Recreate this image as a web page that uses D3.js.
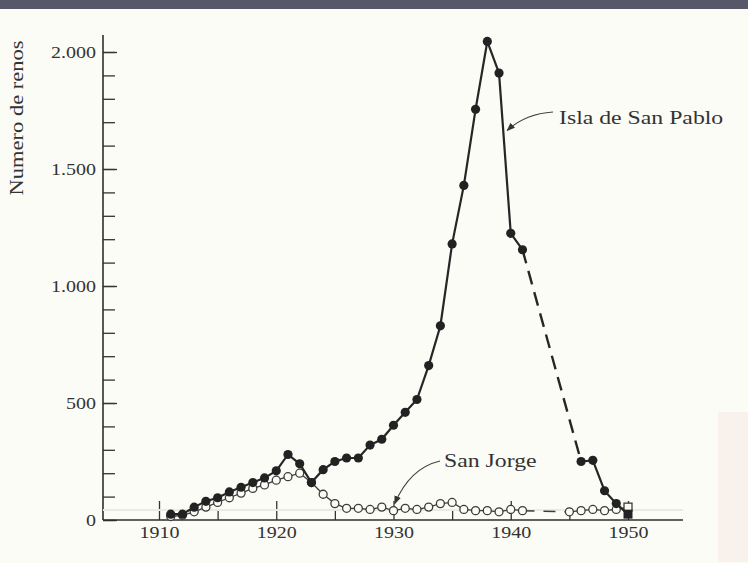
<!DOCTYPE html>
<html><head><meta charset="utf-8">
<script src="https://cdn.jsdelivr.net/npm/d3@7/dist/d3.min.js"></script>
<style>
html,body{margin:0;padding:0;background:#fcfcf6;}
svg{display:block;}
text{font-family:"Liberation Serif","DejaVu Serif",serif;fill:#333;}
</style></head>
<body>
<script>
// ---- data ----
const paulYears   = [1911,1912,1913,1914,1915,1916,1917,1918,1919,1920,1921,1922,1923,1924,1925,1926,1927,1928,1929,1930,1931,1932,1933,1934,1935,1936,1937,1938,1939,1940,1941,1946,1947,1948,1949,1950];
const paulValues  = [25,25,55,80,95,120,140,160,180,210,280,240,160,215,250,265,265,320,345,405,460,515,660,830,1180,1430,1755,2045,1910,1225,1155,250,255,125,70,25];
const georgeYears = [1911,1912,1913,1914,1915,1916,1917,1918,1919,1920,1921,1922,1923,1924,1925,1926,1927,1928,1929,1930,1931,1932,1933,1934,1935,1936,1937,1938,1939,1940,1941,1945,1946,1947,1948,1949,1950];
const georgeValues= [15,20,35,55,75,95,115,135,150,170,185,200,160,110,70,50,50,45,55,40,50,45,55,70,75,45,40,40,35,45,40,35,40,45,40,45,55];
const yMajorTicks = [0,500,1000,1500,2000];
const xMajorTicks = [1910,1920,1930,1940,1950];
const yTitle = "Numero de renos";
const labelPaul = "Isla de San Pablo";
const labelGeorge = "San Jorge";

const W = 748, H = 563;
const svg = d3.select("body").append("svg").attr("width", W).attr("height", H);
svg.append("rect").attr("width", W).attr("height", H).attr("fill", "#fcfcf6");
svg.append("rect").attr("x",0).attr("y",0).attr("width",W).attr("height",9).attr("fill","#565869");
svg.append("rect").attr("x",718).attr("y",412).attr("width",30).attr("height",150).attr("fill","#f8f1ec");

const x = d3.scaleLinear().domain([1910,1950]).range([159,628]);
const y = d3.scaleLinear().domain([0,2000]).range([520,52]);
const axisX0 = 103, axisY0 = 520;

const fmt = d3.formatLocale({thousands:".", grouping:[3], decimal:",", currency:["",""]}).format(",");
const stretch = 1.25;
function widen(sel){
  sel.each(function(){
    const w = this.getComputedTextLength();
    d3.select(this).attr("textLength", w*stretch).attr("lengthAdjust","spacingAndGlyphs");
  });
}

// y axis
const gy = svg.append("g").attr("transform",`translate(${axisX0},0)`);
gy.call(d3.axisLeft(y).tickValues(d3.range(0,2001,100)).tickSizeInner(-12).tickSizeOuter(0).tickFormat(""));
gy.call(g=>g.select(".domain").remove());
const gy2 = svg.append("g").attr("transform",`translate(${axisX0},0)`);
gy2.call(d3.axisLeft(y).tickValues(yMajorTicks).tickSizeInner(-14).tickSizeOuter(0).tickPadding(7).tickFormat(fmt));
gy2.select(".domain").remove();
gy2.selectAll("text").attr("font-size",16).attr("font-family","Liberation Serif").attr("fill","#333");
svg.selectAll(".tick line").attr("stroke","#333").attr("stroke-width",1.3);
widen(gy2.selectAll("text"));
svg.append("line").attr("x1",axisX0).attr("x2",axisX0).attr("y1",35).attr("y2",axisY0).attr("stroke","#2e2e2e").attr("stroke-width",1.6);

// x axis
const gx = svg.append("g").attr("transform",`translate(0,${axisY0})`);
gx.call(d3.axisBottom(x).tickValues(d3.range(1915,1950,10)).tickSizeInner(-11).tickSizeOuter(0).tickFormat(""));
gx.select(".domain").remove();
const gx2 = svg.append("g").attr("transform",`translate(0,${axisY0})`);
gx2.call(d3.axisBottom(x).tickValues(xMajorTicks).tickSizeInner(-19).tickSizeOuter(0).tickPadding(7).tickFormat(d3.format("d")));
gx2.select(".domain").remove();
gx2.selectAll("text").attr("font-size",16).attr("font-family","Liberation Serif").attr("fill","#333");
widen(gx2.selectAll("text"));
svg.selectAll(".tick line").attr("stroke","#333").attr("stroke-width",1.3);
svg.append("line").attr("x1",axisX0).attr("x2",683).attr("y1",axisY0).attr("y2",axisY0).attr("stroke","#2e2e2e").attr("stroke-width",1.6);
svg.append("line").attr("x1",axisX0).attr("x2",683).attr("y1",axisY0-10).attr("y2",axisY0-10).attr("stroke","#ebebe5").attr("stroke-width",2);

// y title
const yt = svg.append("text").attr("transform","translate(23,118) rotate(-90)")
  .attr("text-anchor","middle").attr("font-size",18).text(yTitle);
widen(yt);

// series helpers
function segments(years, values){
  const pts = years.map((yr,i)=>({yr, v:values[i]}));
  const solid = [], dashed = [];
  let cur = [pts[0]];
  for(let i=1;i<pts.length;i++){
    if(pts[i].yr - pts[i-1].yr > 1){ solid.push(cur); dashed.push([pts[i-1],pts[i]]); cur=[pts[i]]; }
    else cur.push(pts[i]);
  }
  solid.push(cur);
  return {pts, solid, dashed};
}
const line = d3.line().x(d=>x(d.yr)).y(d=>y(d.v));

// San Jorge (open)
const sg = segments(georgeYears, georgeValues);
const gG = svg.append("g");
sg.solid.forEach(s=>gG.append("path").attr("d",line(s)).attr("fill","none").attr("stroke","#3c3c3c").attr("stroke-width",1.3));
sg.dashed.forEach(s=>gG.append("path").attr("d",line(s)).attr("fill","none").attr("stroke","#3c3c3c").attr("stroke-width",1.5).attr("stroke-dasharray","12,9"));
gG.selectAll("circle").data(sg.pts.slice(0,-1)).join("circle")
  .attr("cx",d=>x(d.yr)).attr("cy",d=>y(d.v)).attr("r",4)
  .attr("fill","#fcfcf6").attr("stroke","#3c3c3c").attr("stroke-width",1.3);
const lastG = sg.pts[sg.pts.length-1];
gG.append("rect").attr("x",x(lastG.yr)-4).attr("y",y(lastG.v)-4).attr("width",8).attr("height",8)
  .attr("fill","#fcfcf6").attr("stroke","#3c3c3c").attr("stroke-width",1.3);

// San Pablo (filled)
const sp = segments(paulYears, paulValues);
const gP = svg.append("g");
sp.solid.forEach(s=>gP.append("path").attr("d",line(s)).attr("fill","none").attr("stroke","#262626").attr("stroke-width",2.2));
sp.dashed.forEach(s=>gP.append("path").attr("d",line(s)).attr("fill","none").attr("stroke","#262626").attr("stroke-width",2.4).attr("stroke-dasharray","14,8"));
gP.selectAll("circle").data(sp.pts.slice(0,-1)).join("circle")
  .attr("cx",d=>x(d.yr)).attr("cy",d=>y(d.v)).attr("r",4.6).attr("fill","#222");
const lastP = sp.pts[sp.pts.length-1];
gP.append("rect").attr("x",x(lastP.yr)-4.5).attr("y",y(lastP.v)-4.5).attr("width",9).attr("height",9).attr("fill","#222");

// annotations
svg.append("defs").append("marker").attr("id","arr").attr("viewBox","0 0 10 10").attr("refX",9).attr("refY",5)
  .attr("markerWidth",7).attr("markerHeight",7).attr("orient","auto-start-reverse")
  .append("path").attr("d","M0,1 L10,5 L0,9 Z").attr("fill","#333");
function annot(text, tx, ty, sx, sy, ex, ey, cx, cy){
  svg.append("path").attr("d",`M${sx},${sy} Q${cx},${cy} ${ex},${ey}`).attr("fill","none")
    .attr("stroke","#444").attr("stroke-width",1.2).attr("marker-end","url(#arr)");
  const t = svg.append("text").attr("x",tx).attr("y",ty).attr("font-size",19).text(text);
  widen(t);
}
annot(labelPaul, 559, 124, 553, 112, x(1939.7), y(1665), 525, 114);
annot(labelGeorge, 444, 467, 440, 461, x(1930.1), y(70), 410, 468);
</script>
</body></html>
